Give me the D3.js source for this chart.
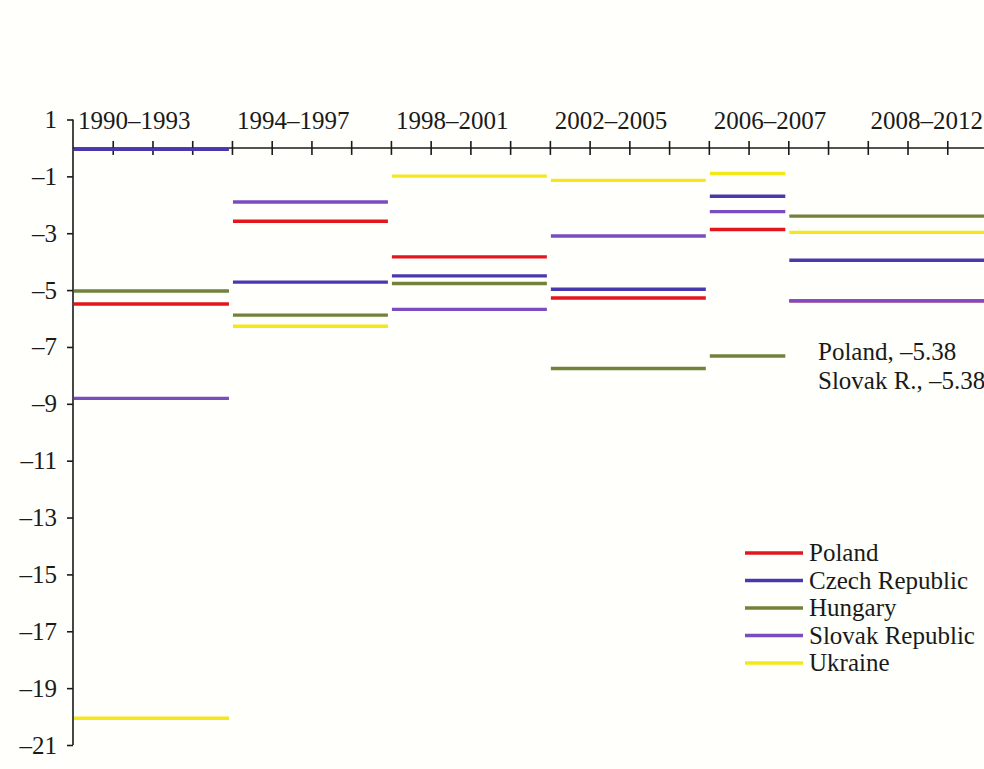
<!DOCTYPE html>
<html>
<head>
<meta charset="utf-8">
<script src="https://cdn.jsdelivr.net/npm/d3@7"></script>
<style>
  html, body { margin: 0; padding: 0; background: #fffffb; }
  svg { display: block; }
  text { font-family: "Liberation Serif", "DejaVu Serif", serif; fill: #1a1a1a; }
</style>
</head>
<body>
<svg id="chart" width="984" height="769"></svg>
<script>
// ---- data ----
const periods = ["1990–1993", "1994–1997", "1998–2001", "2002–2005", "2006–2007", "2008–2012"];
const periodStart = [1990, 1994, 1998, 2002, 2006, 2008];
const periodEnd = [1993, 1997, 2001, 2005, 2007, 2012];
const countries = ["Poland", "Czech Republic", "Hungary", "Slovak Republic", "Ukraine"];
const poland  = [-5.49, -2.58, -3.83, -5.28, -2.87, -5.38];
const czech   = [-0.05, -4.72, -4.50, -4.97, -1.70, -3.95];
const hungary = [-5.03, -5.88, -4.77, -7.76, -7.32, -2.40];
const slovak  = [-8.81, -1.90, -5.68, -3.10, -2.24, -5.38];
const ukraine = [-20.06, -6.27, -0.99, -1.14, -0.90, -2.97];
const yTicks = [1, -1, -3, -5, -7, -9, -11, -13, -15, -17, -19, -21];
const annotations = ["Poland, –5.38", "Slovak R., –5.38"];

const seriesValues = [poland, czech, hungary, slovak, ukraine];
const colors = ["#e3161d", "#4a38ad", "#72823a", "#7a4cbf", "#f4e81a"];

// ---- scales ----
const svg = d3.select("#chart");
const x = d3.scaleLinear().domain([1990, 2013]).range([73, 987]);
const y = d3.scaleLinear().domain([1, -21]).range([119.5, 745]);
const fmt = d => d < 0 ? "–" + Math.abs(d) : String(d);

// ---- y axis ----
const yAxis = d3.axisLeft(y).tickValues(yTicks).tickSize(6).tickPadding(10).tickFormat(fmt);
const gy = svg.append("g").attr("transform", `translate(${x(1990)},0)`).call(yAxis);
gy.select(".domain").attr("d", `M0,${y(1)}V${y(-21)}`).attr("stroke", "#1a1a1a").attr("stroke-width", 1.6);
gy.selectAll(".tick line").attr("stroke", "#1a1a1a").attr("stroke-width", 1.6);
gy.selectAll(".tick text").attr("font-size", 25).attr("font-family", "Liberation Serif").attr("fill", "#1a1a1a");

// ---- x axis (at y=0) ----
const years = d3.range(1991, 2013);
const xAxis = d3.axisBottom(x).tickValues(years).tickSize(7).tickFormat("");
const gx = svg.append("g").attr("transform", `translate(0,${y(0)})`).call(xAxis);
gx.select(".domain").attr("d", `M${x(1990)},0H984`).attr("stroke", "#1a1a1a").attr("stroke-width", 1.4);
gx.selectAll(".tick line").attr("y1", -7).attr("y2", 7).attr("stroke", "#1a1a1a").attr("stroke-width", 1.6);

// ---- period labels ----
svg.append("g").selectAll("text").data(periods).join("text")
  .attr("x", (d, i) => i === periods.length - 1 ? 983 : x(periodStart[i]) + 5)
  .attr("y", 129)
  .attr("text-anchor", (d, i) => i === periods.length - 1 ? "end" : "start")
  .attr("font-size", 25)
  .text(d => d);

// ---- series segments ----
seriesValues.forEach((vals, si) => {
  svg.append("g").selectAll("line").data(vals).join("line")
    .attr("x1", (d, i) => x(periodStart[i]) + 1)
    .attr("x2", (d, i) => Math.min(x(periodEnd[i] + 1) - 3, 984))
    .attr("y1", d => y(d))
    .attr("y2", d => y(d))
    .attr("stroke", colors[si])
    .attr("stroke-width", 3.4);
});

// ---- annotation ----
svg.append("g").selectAll("text").data(annotations).join("text")
  .attr("x", 818)
  .attr("y", (d, i) => 360 + i * 29)
  .attr("font-size", 25)
  .text(d => d);

// ---- legend ----
const leg = svg.append("g").selectAll("g").data(countries).join("g")
  .attr("transform", (d, i) => `translate(745,${553 + i * 27.5})`);
leg.append("line").attr("x1", 0).attr("x2", 58).attr("y1", 0).attr("y2", 0)
  .attr("stroke", (d, i) => colors[i]).attr("stroke-width", 3.4);
leg.append("text").attr("x", 64).attr("y", 8).attr("font-size", 25).text(d => d);
</script>
</body>
</html>
